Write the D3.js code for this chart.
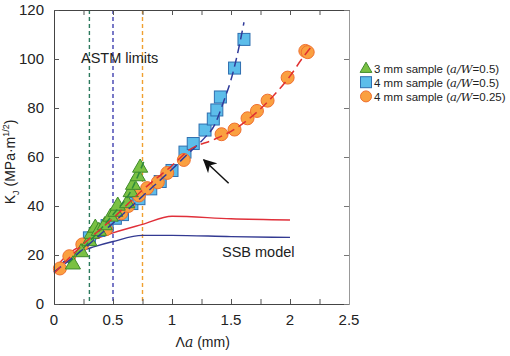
<!DOCTYPE html>
<html>
<head>
<meta charset="utf-8">
<script src="https://cdn.jsdelivr.net/npm/d3@7"></script>
<style>
  body { margin: 0; background: #fff; }
  svg { font-family: Arial, 'Liberation Sans', sans-serif; }
</style>
</head>
<body>
<div id="chart"></div>
<script>
// measured points: [crack extension (mm), K_J (MPa m^1/2)]
const tri3mm = [[0.16, 16.5], [0.23, 21.5], [0.30, 26], [0.32, 29], [0.35, 31.5], [0.38, 30.2],
  [0.43, 32.5], [0.48, 36], [0.52, 38], [0.54, 40.5], [0.62, 41.5], [0.65, 46], [0.67, 49],
  [0.71, 52.5], [0.73, 56]]
const sq4mm = [[0.30, 27], [0.38, 30], [0.45, 32], [0.52, 35], [0.58, 36.5], [0.66, 41],
  [0.72, 43], [0.82, 47], [0.90, 50], [1.00, 54.5], [1.11, 62], [1.18, 65.5], [1.28, 71],
  [1.35, 75.5], [1.38, 79.2], [1.41, 84.5], [1.53, 96.3], [1.61, 108]]
const circ4mm = [[0.05, 14.5], [0.13, 19.5], [0.24, 24.3], [0.44, 30.5], [0.57, 37], [0.63, 40],
  [0.72, 44.3], [0.79, 47.3], [0.88, 49.7], [0.96, 53.5], [1.10, 58.8], [1.42, 69.3],
  [1.53, 71.2], [1.64, 75.8], [1.72, 78.8], [1.81, 83], [1.98, 92.4], [2.13, 103.3], [2.15, 102.8]]

// fitted R-curves (dashed)
const fitGreen = [[0.12, 16.5], [0.3, 25.5], [0.5, 36.5], [0.65, 46], [0.76, 58]]
const fitBlue = [[0, 13], [0.25, 22.5], [0.5, 33], [0.75, 44], [1.0, 55], [1.15, 62], [1.27, 67.5],
  [1.36, 73], [1.44, 83], [1.50, 91.5], [1.55, 101], [1.61, 115]]
const fitRed = [[0, 12.5], [0.25, 24.5], [0.5, 35], [0.75, 46.5], [1.0, 56.5], [1.15, 63],
  [1.35, 67], [1.5, 70.5], [1.7, 77.5], [1.85, 84.5], [2.0, 93], [2.1, 100], [2.18, 105]]

// SSB model curves (solid)
const ssbRed = [[0, 14], [0.1, 19.5], [0.2, 23], [0.35, 26.5], [0.5, 29], [0.75, 32.5], [1.0, 35.8],
  [1.5, 34.8], [2.0, 34.3]]
const ssbBlue = [[0, 13], [0.1, 18], [0.2, 21], [0.35, 23.5], [0.5, 25.5], [0.75, 28], [1.0, 28],
  [1.5, 27.5], [2.0, 27.2]]

// ASTM validity limits
const astmLimits = [{ x: 0.3, color: '#2c7a5e' }, { x: 0.5, color: '#4040b0' }, { x: 0.75, color: '#f0a030' }]

const xTicks = [0, 0.5, 1, 1.5, 2, 2.5]
const yTicks = [0, 20, 40, 60, 80, 100, 120]

const width = 510
const height = 356
const margin = { top: 10, right: 161, bottom: 52, left: 54 }

const svg = d3.select('#chart').append('svg')
  .attr('width', width)
  .attr('height', height)

const x = d3.scaleLinear().domain([0, 2.5]).range([margin.left, width - margin.right])
const y = d3.scaleLinear().domain([0, 120]).range([height - margin.bottom, margin.top])

svg.append('defs').append('marker')
  .attr('id', 'arrowhead')
  .attr('viewBox', '0 0 10 10')
  .attr('refX', 9).attr('refY', 5)
  .attr('markerWidth', 9).attr('markerHeight', 9)
  .attr('orient', 'auto')
  .append('path')
  .attr('d', 'M0,0 L10,5 L0,10 L3,5 Z')
  .attr('fill', '#111')

// vertical ASTM lines
svg.selectAll('.astm')
  .data(astmLimits)
  .enter().append('line')
  .attr('x1', d => x(d.x)).attr('x2', d => x(d.x))
  .attr('y1', y(120)).attr('y2', y(0))
  .attr('stroke', d => d.color)
  .attr('stroke-width', 1.4)
  .attr('stroke-dasharray', '4,3')

const line = d3.line().x(d => x(d[0])).y(d => y(d[1])).curve(d3.curveMonotoneX)

// SSB model
svg.append('path').datum(ssbRed)
  .attr('d', line).attr('fill', 'none').attr('stroke', '#e0303a').attr('stroke-width', 1.4)
svg.append('path').datum(ssbBlue)
  .attr('d', line).attr('fill', 'none').attr('stroke', '#333a92').attr('stroke-width', 1.4)

// markers
svg.selectAll('.sq')
  .data(sq4mm)
  .enter().append('rect')
  .attr('x', d => x(d[0]) - 6).attr('y', d => y(d[1]) - 6)
  .attr('width', 12).attr('height', 12)
  .attr('fill', '#5cbdea').attr('stroke', '#2f6fb0').attr('stroke-width', 1)

svg.selectAll('.circ')
  .data(circ4mm)
  .enter().append('circle')
  .attr('cx', d => x(d[0])).attr('cy', d => y(d[1]))
  .attr('r', 6.5)
  .attr('fill', '#faa040').attr('stroke', '#f07030').attr('stroke-width', 1)

const triPath = d3.symbol().type(d3.symbolTriangle).size(100)
svg.selectAll('.tri')
  .data(tri3mm)
  .enter().append('path')
  .attr('d', triPath)
  .attr('transform', d => `translate(${x(d[0])},${y(d[1]) + 1})`)
  .attr('fill', '#7ac143').attr('stroke', '#3f8a2c').attr('stroke-width', 1)

// fitted dashed curves on top
svg.append('path').datum(fitGreen)
  .attr('d', line).attr('fill', 'none').attr('stroke', '#2e8a3a')
  .attr('stroke-width', 1.5).attr('stroke-dasharray', '7,4')
svg.append('path').datum(fitBlue)
  .attr('d', line).attr('fill', 'none').attr('stroke', '#2f3a9a')
  .attr('stroke-width', 1.5).attr('stroke-dasharray', '9,5')
svg.append('path').datum(fitRed)
  .attr('d', line).attr('fill', 'none').attr('stroke', '#e03030')
  .attr('stroke-width', 1.5).attr('stroke-dasharray', '9,5')

// axes (ticks inward)
svg.append('g')
  .attr('transform', `translate(0,${y(0)})`)
  .call(d3.axisBottom(x).tickValues(d3.range(0, 2.51, 0.25)).tickSizeInner(-5).tickSizeOuter(0).tickFormat(''))
  .call(g => g.select('.domain').attr('stroke', '#444'))
  .call(g => g.selectAll('.tick line').attr('stroke', '#555'))

svg.append('g')
  .attr('transform', `translate(0,${y(120)})`)
  .call(d3.axisTop(x).tickValues(d3.range(0, 2.51, 0.25)).tickSizeInner(-5).tickSizeOuter(0).tickFormat(''))
  .call(g => g.select('.domain').attr('stroke', '#444'))
  .call(g => g.selectAll('.tick line').attr('stroke', '#555'))

svg.append('g')
  .attr('transform', `translate(${x(0)},0)`)
  .call(d3.axisLeft(y).tickValues(yTicks).tickSizeInner(-5).tickSizeOuter(0).tickFormat(''))
  .call(g => g.select('.domain').attr('stroke', '#444'))
  .call(g => g.selectAll('.tick line').attr('stroke', '#555'))

svg.append('g')
  .attr('transform', `translate(${x(2.5)},0)`)
  .call(d3.axisRight(y).tickValues(yTicks).tickSizeInner(-5).tickSizeOuter(0).tickFormat(''))
  .call(g => g.select('.domain').attr('stroke', '#999'))
  .call(g => g.selectAll('.tick line').attr('stroke', '#777'))

// tick labels
svg.selectAll('.xlab')
  .data(xTicks)
  .enter().append('text')
  .attr('x', d => x(d)).attr('y', y(0) + 21)
  .attr('text-anchor', 'middle')
  .attr('font-size', 15)
  .attr('fill', '#222')
  .text(d => d)

svg.selectAll('.ylab')
  .data(yTicks)
  .enter().append('text')
  .attr('x', x(0) - 10).attr('y', d => y(d) + 5)
  .attr('text-anchor', 'end')
  .attr('font-size', 15)
  .attr('fill', '#222')
  .text(d => d)

// axis titles
const xt = svg.append('text')
  .attr('x', x(1.26)).attr('y', 347)
  .attr('text-anchor', 'middle')
  .attr('font-size', 14)
  .attr('fill', '#222')
xt.append('tspan').text('Λ')
xt.append('tspan').attr('font-family', 'DejaVu Serif, serif').attr('font-style', 'italic').text('a')
xt.append('tspan').text(' (mm)')

const yt = svg.append('text')
  .attr('transform', `translate(15,${y(58)}) rotate(-90)`)
  .attr('text-anchor', 'middle')
  .attr('font-size', 14)
  .attr('fill', '#222')
yt.append('tspan').text('K')
yt.append('tspan').attr('font-size', 9).attr('dy', 4).text('J')
yt.append('tspan').attr('dy', -4).text(' (MPa·m')
yt.append('tspan').attr('font-size', 9).attr('dy', -6).text('1/2')
yt.append('tspan').attr('dy', 6).text(')')

// annotations
svg.append('text')
  .attr('x', 81).attr('y', 63)
  .attr('font-size', 14.5)
  .attr('fill', '#222')
  .text('ASTM limits')

svg.append('text')
  .attr('x', 222).attr('y', 257)
  .attr('font-size', 14.5)
  .attr('fill', '#222')
  .text('SSB model')

svg.append('line')
  .attr('x1', x(1.48)).attr('y1', y(49.3))
  .attr('x2', x(1.27)).attr('y2', y(58.8))
  .attr('stroke', '#111').attr('stroke-width', 1.5)
  .attr('marker-end', 'url(#arrowhead)')

// legend
const legendItems = [
  { shape: 'tri', label: '3 mm sample', ratio: '0.5' },
  { shape: 'sq', label: '4 mm sample', ratio: '0.5' },
  { shape: 'circ', label: '4 mm sample', ratio: '0.25' }
]
const legend = svg.append('g').attr('transform', 'translate(366,68)')
legendItems.forEach((d, i) => {
  const g = legend.append('g').attr('transform', `translate(0,${i * 14.2})`)
  if (d.shape === 'tri') {
    g.append('path').attr('d', d3.symbol().type(d3.symbolTriangle).size(60))
      .attr('transform', 'translate(0,1)')
      .attr('fill', '#7ac143').attr('stroke', '#3f8a2c')
  } else if (d.shape === 'sq') {
    g.append('rect').attr('x', -5.5).attr('y', -5.5).attr('width', 11).attr('height', 11)
      .attr('fill', '#5cbdea').attr('stroke', '#2f6fb0')
  } else {
    g.append('circle').attr('r', 5.5).attr('fill', '#faa040').attr('stroke', '#f07030')
  }
  const t = g.append('text').attr('x', 8).attr('y', 4.5).attr('font-size', 11.5).attr('fill', '#222')
  t.append('tspan').text(d.label + ' (')
  t.append('tspan').attr('font-family', 'DejaVu Serif, serif').attr('font-style', 'italic').text('a/W')
  t.append('tspan').text('=' + d.ratio + ')')
})
</script>
</body>
</html>
